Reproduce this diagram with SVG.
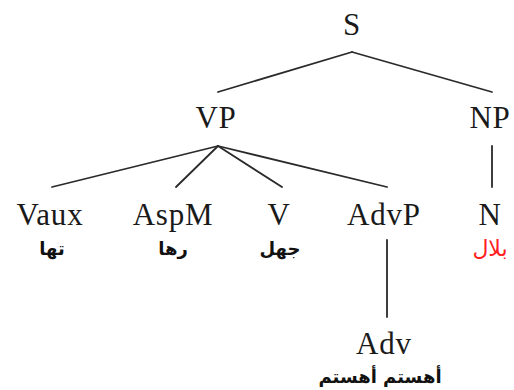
<svg xmlns="http://www.w3.org/2000/svg" width="514" height="390" viewBox="0 0 514 390">
<style>
.lbl{font-family:"Liberation Serif","Times New Roman",serif;font-size:31px;letter-spacing:0.8px;fill:#1a1a1a;text-anchor:middle}
.ar{font-family:"DejaVu Sans",sans-serif;font-size:18px;font-weight:bold;fill:#111;text-anchor:middle}
.red{fill:#ff2020;font-weight:normal;font-size:22px}
.edge{stroke:#2a2a2a;stroke-width:1.8;fill:none;stroke-linecap:round}
</style>
<rect width="514" height="390" fill="#fff"/>
<g id="connectors">
<line class="edge" x1="352" y1="52" x2="218" y2="92"/>
<line class="edge" x1="352" y1="52" x2="492" y2="92"/>
<line class="edge" x1="218" y1="146" x2="52" y2="187"/>
<line class="edge" x1="218" y1="146" x2="176" y2="187"/>
<line class="edge" x1="218" y1="146" x2="282" y2="187"/>
<line class="edge" x1="218" y1="146" x2="387" y2="187"/>
<line class="edge" x1="492" y1="146" x2="492" y2="187"/>
<line class="edge" x1="387" y1="240" x2="387" y2="317"/>
</g>
<g id="S"><text class="lbl" x="352" y="35">S</text></g>
<g id="VP"><text class="lbl" x="216" y="128">VP</text></g>
<g id="NP"><text class="lbl" x="490" y="128">NP</text></g>
<g id="Vaux"><text class="lbl" x="50" y="225">Vaux</text><text class="ar" x="52" y="255" direction="rtl">تها</text></g>
<g id="AspM"><text class="lbl" x="173" y="225">AspM</text><text class="ar" x="173" y="255" direction="rtl">رها</text></g>
<g id="V"><text class="lbl" x="279" y="225">V</text><text class="ar" x="280" y="255" direction="rtl">جهل</text></g>
<g id="AdvP"><text class="lbl" x="384" y="225">AdvP</text></g>
<g id="N"><text class="lbl" x="490" y="225">N</text><text class="ar red" x="490" y="256" direction="rtl">بلال</text></g>
<g id="Adv"><text class="lbl" x="384" y="354">Adv</text><text class="ar" x="380" y="383" direction="rtl">أهستم أهستم</text></g>
</svg>
